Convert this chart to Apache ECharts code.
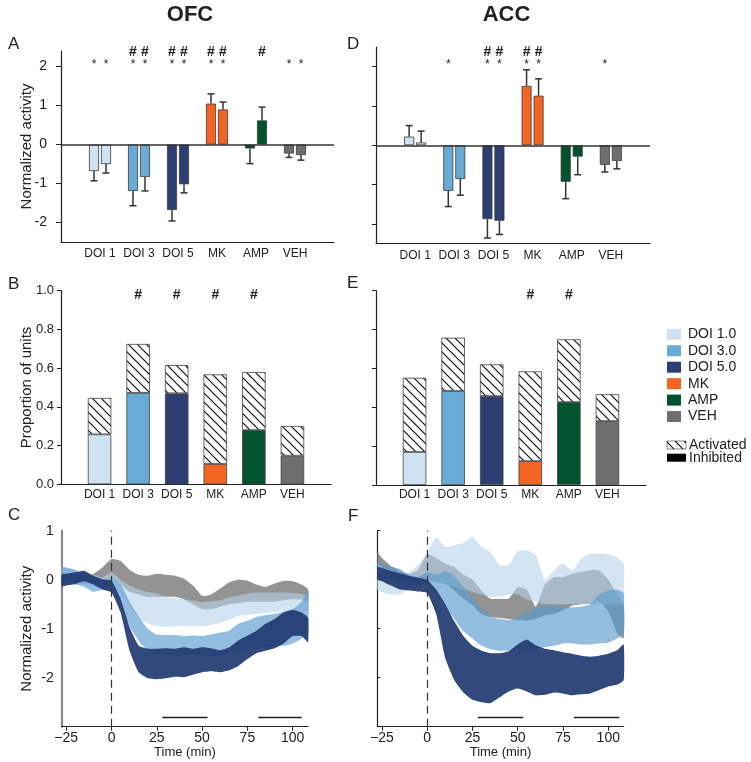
<!DOCTYPE html>
<html><head><meta charset="utf-8">
<script src="https://cdn.jsdelivr.net/npm/echarts@6/dist/echarts.min.js"></script>
<style>html,body{margin:0;padding:0;background:#fff}#c{width:751px;height:762px}</style>
</head><body><div id="c"></div>
<script>
// ---------- data ----------
const groups = ['DOI 1','DOI 3','DOI 5','MK','AMP','VEH'];
const legendNames = ['DOI 1.0','DOI 3.0','DOI 5.0','MK','AMP','VEH'];
const groupColors = ['#cfe2f1','#6aaad6','#2d3f72','#f26522','#00532c','#6e6e6e'];

// A: OFC normalized activity (two bars per group) and error-bar ends
const ofcBar1 = [-0.68,-1.19,-1.68,1.05,-0.10,-0.23];
const ofcBar1Err = [-0.93,-1.57,-1.96,1.30,-0.49,-0.33];
const ofcBar2 = [-0.50,-0.83,-1.02,0.90,0.62,-0.27];
const ofcBar2Err = [-0.73,-1.19,-1.24,1.09,0.96,-0.40];
const ofcStars = [[1,1],[1,1],[1,1],[1,1],[0,0],[1,1]];
const ofcHashes = [[0,0],[1,1],[1,1],[1,1],[0,1],[0,0]];

// D: ACC normalized activity
const accBar1 = [0.22,-1.16,-1.88,1.51,-0.93,-0.50];
const accBar1Err = [0.50,-1.56,-2.36,1.92,-1.36,-0.68];
const accBar2 = [0.07,-0.86,-1.92,1.26,-0.29,-0.40];
const accBar2Err = [0.36,-1.27,-2.27,1.69,-0.75,-0.60];
const accStars = [[0,0],[1,0],[1,1],[1,1],[0,0],[1,0]];
const accHashes = [[0,0],[0,0],[1,1],[1,1],[0,0],[0,0]];

// B / E: proportion of units
const ofcInhibited = [0.258,0.472,0.470,0.105,0.280,0.148];
const ofcActivated = [0.188,0.253,0.146,0.463,0.300,0.153];
const ofcPropHash = [0,1,1,1,1,0];
const accInhibited = [0.170,0.484,0.458,0.123,0.427,0.329];
const accActivated = [0.382,0.274,0.163,0.462,0.323,0.138];
const accPropHash = [0,0,0,1,1,0];

// C / F: time courses (lower / upper band edges)
const times = [-27.5,-25,-20,-15,-10,-5,0,5,10,15,20,25,30,35,40,45,50,55,60,65,70,75,80,85,90,95,100,105,108.5];
const timeTicks = [-25,0,25,50,75,100];
const sigWindowsOfc = [[28,53],[81,105]];
const sigWindowsAcc = [[28,53],[81,106]];

const ofcDoi1Lo = [-0.1,-0.05,-0.05,-0.1,-0.15,-0.15,-0.1,-0.3,-0.55,-0.78,-0.9,-0.95,-0.96,-0.95,-0.94,-0.95,-0.95,-0.93,-0.88,-0.82,-0.74,-0.72,-0.7,-0.68,-0.66,-0.64,-0.62,-0.62,-0.64];
const ofcDoi1Hi = [0.25,0.25,0.2,0.15,0.1,0.05,0.15,0.0,-0.12,-0.2,-0.25,-0.28,-0.36,-0.38,-0.4,-0.43,-0.46,-0.44,-0.42,-0.36,-0.32,-0.28,-0.26,-0.26,-0.26,-0.26,-0.27,-0.29,-0.32];
const ofcDoi3Lo = [-0.1,-0.1,-0.1,-0.15,-0.25,-0.2,-0.15,-0.55,-0.95,-1.25,-1.45,-1.5,-1.52,-1.55,-1.55,-1.52,-1.55,-1.55,-1.55,-1.5,-1.45,-1.42,-1.4,-1.38,-1.35,-1.35,-1.3,-1.2,-1.05];
const ofcDoi3Hi = [0.25,0.25,0.2,0.1,0.05,0.0,0.05,-0.1,-0.45,-0.75,-1.0,-1.12,-1.13,-1.13,-1.15,-1.14,-1.15,-1.12,-1.08,-1.04,-0.9,-0.84,-0.76,-0.72,-0.7,-0.65,-0.6,-0.45,-0.2];
const ofcDoi5Lo = [-0.14,-0.12,-0.09,-0.03,-0.1,-0.2,-0.26,-0.67,-1.45,-1.89,-2.01,-2.03,-2.01,-1.98,-1.99,-1.94,-1.89,-1.87,-1.89,-1.85,-1.76,-1.62,-1.5,-1.45,-1.4,-1.3,-1.15,-1.15,-1.28];
const ofcDoi5Hi = [0.1,0.12,0.15,0.18,0.08,0.01,-0.02,-0.39,-0.97,-1.35,-1.41,-1.41,-1.4,-1.41,-1.38,-1.41,-1.38,-1.4,-1.44,-1.38,-1.24,-1.14,-1.04,-0.9,-0.8,-0.67,-0.62,-0.67,-0.78];
const ofcVehLo = [-0.05,-0.05,-0.05,-0.08,-0.05,0.0,0.05,-0.1,-0.25,-0.3,-0.35,-0.35,-0.35,-0.35,-0.4,-0.5,-0.6,-0.6,-0.55,-0.5,-0.48,-0.45,-0.45,-0.45,-0.45,-0.42,-0.4,-0.4,-0.45];
const ofcVehHi = [0.15,0.12,0.08,0.1,0.12,0.25,0.42,0.38,0.2,0.1,0.08,0.12,0.1,0.08,0.02,-0.12,-0.33,-0.3,-0.18,-0.05,0.0,-0.02,-0.1,-0.15,-0.08,-0.02,-0.03,-0.1,-0.2];

const accDoi1Lo = [-0.2,-0.25,-0.3,-0.3,-0.2,-0.1,0.0,-0.05,-0.1,-0.15,-0.2,-0.25,-0.3,-0.35,-0.35,-0.3,-0.3,-0.4,-0.45,-0.5,-0.5,-0.5,-0.5,-0.5,-0.5,-0.5,-0.5,-0.5,-0.5];
const accDoi1Hi = [0.2,0.18,0.1,0.05,0.15,0.3,0.55,0.87,0.67,0.7,0.75,0.88,0.67,0.56,0.3,0.3,0.58,0.6,0.5,0.0,0.19,0.33,0.19,0.43,0.53,0.53,0.52,0.45,0.33];
const accDoi3Lo = [0.0,0.0,0.0,-0.05,-0.1,-0.12,-0.05,-0.3,-0.55,-0.8,-1.05,-1.2,-1.35,-1.42,-1.45,-1.45,-1.45,-1.42,-1.4,-1.38,-1.35,-1.3,-1.3,-1.32,-1.32,-1.3,-1.28,-1.2,-1.1];
const accDoi3Hi = [0.35,0.33,0.27,0.22,0.1,0.05,0.15,0.1,0.18,0.08,-0.15,-0.35,-0.6,-0.75,-0.8,-0.82,-0.76,-0.66,-0.58,-0.53,-0.53,-0.55,-0.56,-0.55,-0.5,-0.3,-0.22,-0.2,-0.28];
const accDoi5Lo = [0.0,-0.03,-0.12,-0.2,-0.22,-0.24,-0.27,-0.7,-1.6,-2.05,-2.3,-2.45,-2.5,-2.52,-2.4,-2.28,-2.22,-2.28,-2.36,-2.35,-2.3,-2.32,-2.36,-2.34,-2.32,-2.25,-2.18,-2.14,-2.05];
const accDoi5Hi = [0.26,0.24,0.18,0.13,0.08,0.04,0.0,-0.2,-0.5,-0.85,-1.15,-1.35,-1.45,-1.5,-1.5,-1.46,-1.32,-1.22,-1.34,-1.41,-1.44,-1.48,-1.51,-1.55,-1.57,-1.55,-1.51,-1.44,-1.32];
const accVehLo = [0.33,0.25,0.1,0.0,-0.05,-0.02,0.0,-0.05,-0.08,-0.22,-0.38,-0.52,-0.7,-0.76,-0.78,-0.8,-0.82,-0.83,-0.8,-0.73,-0.7,-0.62,-0.53,-0.5,-0.49,-0.44,-0.65,-1.1,-1.2];
const accVehHi = [0.56,0.45,0.28,0.18,0.12,0.2,0.52,0.45,0.33,0.26,0.1,0.0,-0.22,-0.39,-0.39,-0.39,-0.15,-0.2,-0.55,-0.1,0.05,0.05,0.12,0.16,0.19,0.19,0.0,-0.3,-0.49];

// ---------- styling ----------
const FONT = '"Liberation Sans", Arial, Helvetica, sans-serif';
const INK = '#222';
const STAR_Y = 2.13, HASH_Y = 2.38, PROP_HASH_Y = 0.975, SIG_Y = -2.8;
const bandColors = {doi1:'#b5d3ea', doi3:'#5a9bd0', doi5:'#203a70', veh:'#6f6f6f'};
const bandOpacity = {doi1:0.6, doi3:0.65, doi5:0.92, veh:0.75};

function makeHatch(){
  const c = document.createElement('canvas'); c.width = 9; c.height = 9;
  const g = c.getContext('2d');
  g.fillStyle = '#fff'; g.fillRect(0,0,9,9);
  g.strokeStyle = '#111'; g.lineWidth = 1.2; g.beginPath();
  g.moveTo(-1,-1); g.lineTo(10,10);
  g.moveTo(-1,8); g.lineTo(1,10);
  g.moveTo(8,-1); g.lineTo(10,1);
  g.stroke();
  return c;
}
const hatch = {image: makeHatch(), repeat: 'repeat'};

const cats = ['', ...groups, ''];
const grids = [
  {left:61, top:51, width:273, height:191},    // A
  {left:376, top:47, width:274, height:196.5}, // D
  {left:61, top:290.7, width:270, height:193.6}, // B
  {left:376, top:290.7, width:270, height:194.3}, // E
  {left:61.7, top:530.7, width:246.4, height:196}, // C
  {left:377.3, top:530.7, width:246.4, height:196} // F
].map(g => Object.assign({outerBoundsMode:'none', containLabel:false}, g));

function catAxis(gi, margin){
  return {type:'category', gridIndex:gi, data:cats, boundaryGap:false,
    axisLine:{onZero:false, lineStyle:{color:INK, width:1.2}}, axisTick:{show:false},
    axisLabel:{interval:0, fontFamily:FONT, fontSize:12, color:INK, margin:margin},
    splitLine:{show:false}};
}
function timeAxis(gi){
  return {type:'value', gridIndex:gi, min:-27.5, max:108.5,
    axisLine:{onZero:false, lineStyle:{color:INK, width:1.2}},
    axisTick:{show:true, length:4, customValues:timeTicks, lineStyle:{color:INK}},
    axisLabel:{customValues:timeTicks, fontFamily:FONT, fontSize:14, color:INK, margin:4,
      formatter: v => String(v).replace('-', '\u2212')},
    splitLine:{show:false},
    name:'Time (min)', nameLocation:'middle', nameGap:15,
    nameTextStyle:{fontFamily:FONT, fontSize:13, color:INK}};
}
const yName = {fontFamily:FONT, fontSize:15, color:INK};

const xAxes = [catAxis(0,6), catAxis(1,6), catAxis(2,4), catAxis(3,4), timeAxis(4), timeAxis(5)];
const yAxes = [
  {type:'value', gridIndex:0, min:-2.5, max:2.4,
   axisLine:{show:true, onZero:false, lineStyle:{color:INK, width:1.2}},
   axisTick:{show:true, length:5, customValues:[-2,-1,0,1,2], lineStyle:{color:INK}},
   axisLabel:{customValues:[-2,-1,0,1,2], fontFamily:FONT, fontSize:14, color:INK, margin:14},
   splitLine:{show:false}, name:'Normalized activity', nameLocation:'middle', nameGap:27,
   nameMoveOverlap:false, nameTextStyle:yName},
  {type:'value', gridIndex:1, min:-2.5, max:2.5,
   axisLine:{show:true, onZero:false, lineStyle:{color:INK, width:1.2}},
   axisTick:{show:true, length:4, customValues:[-2,-1,0,1,2], lineStyle:{color:INK}},
   axisLabel:{show:false}, splitLine:{show:false}},
  {type:'value', gridIndex:2, min:0, max:1, interval:0.2,
   axisLine:{show:true, onZero:false, lineStyle:{color:INK, width:1.2}},
   axisTick:{show:true, length:4, lineStyle:{color:INK}},
   axisLabel:{fontFamily:FONT, fontSize:13, color:INK, margin:7, formatter: v => v.toFixed(1)},
   splitLine:{show:false}, name:'Proportion of units', nameLocation:'middle', nameGap:27,
   nameMoveOverlap:false, nameTextStyle:yName},
  {type:'value', gridIndex:3, min:0, max:1, interval:0.2,
   axisLine:{show:true, onZero:false, lineStyle:{color:INK, width:1.2}},
   axisTick:{show:true, length:4, lineStyle:{color:INK}},
   axisLabel:{show:false}, splitLine:{show:false}},
  {type:'value', gridIndex:4, min:-3, max:1,
   axisLine:{show:true, onZero:false, lineStyle:{color:'#8a8a8a', width:2.2}},
   axisTick:{show:false},
   axisLabel:{customValues:[-2,-1,0,1], fontFamily:FONT, fontSize:14, color:INK, margin:8},
   splitLine:{show:false}, name:'Normalized activity', nameLocation:'middle', nameGap:27,
   nameMoveOverlap:false, nameTextStyle:yName},
  {type:'value', gridIndex:5, min:-3, max:1,
   axisLine:{show:true, onZero:false, lineStyle:{color:INK, width:1.2}},
   axisTick:{show:true, inside:true, length:3, customValues:[-2,-1,0,1], lineStyle:{color:INK}},
   axisLabel:{show:false}, splitLine:{show:false}}
];

const series = [];

function padded(vals, styler){
  return ['-', ...vals.map((v,i)=>({value:v, itemStyle:styler(i)})), '-'];
}

function activityPanel(gi, b1, e1, b2, e2, stars, hashes){
  const solid = i => ({color:groupColors[i], borderColor:'#3a3a3a', borderWidth:0.8});
  series.push({type:'bar', xAxisIndex:gi, yAxisIndex:gi, barWidth:10, barGap:'20%', silent:true,
    data:padded(b1, solid),
    markLine:{silent:true, symbol:'none', label:{show:false}, animation:false,
      lineStyle:{color:'#333', width:1.5, type:'solid'}, data:[{yAxis:0}]}});
  series.push({type:'bar', xAxisIndex:gi, yAxisIndex:gi, barWidth:10, barGap:'20%', silent:true,
    data:padded(b2, solid)});
  [[b1,e1,-6],[b2,e2,6]].forEach(([b,e,off]) => {
    series.push({type:'custom', xAxisIndex:gi, yAxisIndex:gi, silent:true, z:3,
      data: groups.map((g,i)=>[i+1, b[i], e[i]]),
      renderItem(params, api){
        const x = api.value(0);
        const p0 = api.coord([x, api.value(1)]);
        const p1 = api.coord([x, api.value(2)]);
        const cx = p0[0] + off;
        return {type:'group', children:[
          {type:'line', shape:{x1:cx, y1:p0[1], x2:cx, y2:p1[1]}, style:{stroke:'#333', lineWidth:1.5}},
          {type:'line', shape:{x1:cx-3.5, y1:p1[1], x2:cx+3.5, y2:p1[1]}, style:{stroke:'#333', lineWidth:1.5}}
        ]};
      }});
  });
  series.push({type:'custom', xAxisIndex:gi, yAxisIndex:gi, silent:true, z:4,
    data: groups.map((g,i)=>[i+1, stars[i][0], stars[i][1], hashes[i][0], hashes[i][1]]),
    renderItem(params, api){
      const x = api.value(0);
      const ch = [];
      [-6, 6].forEach((off, k) => {
        if (api.value(1+k)) {
          const p = api.coord([x, STAR_Y]);
          ch.push({type:'text', x:p[0]+off, y:p[1]+3, style:{text:'*', fontFamily:FONT, fontSize:12, fill:INK, align:'center', verticalAlign:'middle'}});
        }
        if (api.value(3+k)) {
          const p = api.coord([x, HASH_Y]);
          ch.push({type:'text', x:p[0]+off, y:p[1], style:{text:'#', fontFamily:FONT, fontSize:14, fontWeight:'bold', fill:INK, align:'center', verticalAlign:'middle'}});
        }
      });
      return {type:'group', children:ch};
    }});
}

function proportionPanel(gi, inh, act, hashes){
  series.push({type:'bar', xAxisIndex:gi, yAxisIndex:gi, stack:'p'+gi, barWidth:23.5, silent:true, name:'Inhibited',
    data:padded(inh, i => ({color:groupColors[i], borderColor:'#444', borderWidth:0.8}))});
  series.push({type:'bar', xAxisIndex:gi, yAxisIndex:gi, stack:'p'+gi, barWidth:23.5, silent:true, name:'Activated',
    data:padded(act, i => ({color:hatch, borderColor:'#444', borderWidth:0.8}))});
  series.push({type:'custom', xAxisIndex:gi, yAxisIndex:gi, silent:true, z:4,
    data: groups.map((g,i)=>[i+1, hashes[i]]),
    renderItem(params, api){
      if (!api.value(1)) return {type:'group', children:[]};
      const p = api.coord([api.value(0), PROP_HASH_Y]);
      return {type:'text', x:p[0], y:p[1], style:{text:'#', fontFamily:FONT, fontSize:14, fontWeight:'bold', fill:INK, align:'center', verticalAlign:'middle'}};
    }});
}

function band(gi, lo, hi, key, extra){
  const s = {type:'custom', xAxisIndex:gi, yAxisIndex:gi, silent:true, clip:true,
    data: times.map((t,i)=>[t, lo[i], hi[i]]),
    encode:{x:0, y:[1,2]},
    renderItem(params, api){
      if (params.dataIndex !== 0) return {type:'group', children:[]};
      const pts = [];
      for (let i=0;i<times.length;i++) pts.push(api.coord([times[i], hi[i]]));
      for (let i=times.length-1;i>=0;i--) pts.push(api.coord([times[i], lo[i]]));
      return {type:'polygon', shape:{points:pts, smooth:0.15},
        style:{fill:bandColors[key], opacity:bandOpacity[key]}};
    }};
  if (extra) Object.assign(s, extra);
  series.push(s);
}

function timePanel(gi, d, windows){
  const ml = {silent:true, symbol:'none', label:{show:false}, animation:false,
    data:[
      {xAxis:0, lineStyle:{color:'#333', width:1.2, type:[8,5]}},
      ...windows.map(w => [{coord:[w[0], SIG_Y], lineStyle:{color:INK, width:1.3, type:'solid'}}, {coord:[w[1], SIG_Y]}])
    ]};
  band(gi, d.vehLo, d.vehHi, 'veh', {markLine:ml});
  band(gi, d.doi1Lo, d.doi1Hi, 'doi1');
  band(gi, d.doi3Lo, d.doi3Hi, 'doi3');
  band(gi, d.doi5Lo, d.doi5Hi, 'doi5');
}

activityPanel(0, ofcBar1, ofcBar1Err, ofcBar2, ofcBar2Err, ofcStars, ofcHashes);
activityPanel(1, accBar1, accBar1Err, accBar2, accBar2Err, accStars, accHashes);
proportionPanel(2, ofcInhibited, ofcActivated, ofcPropHash);
proportionPanel(3, accInhibited, accActivated, accPropHash);
timePanel(4, {vehLo:ofcVehLo, vehHi:ofcVehHi, doi1Lo:ofcDoi1Lo, doi1Hi:ofcDoi1Hi, doi3Lo:ofcDoi3Lo, doi3Hi:ofcDoi3Hi, doi5Lo:ofcDoi5Lo, doi5Hi:ofcDoi5Hi}, sigWindowsOfc);
timePanel(5, {vehLo:accVehLo, vehHi:accVehHi, doi1Lo:accDoi1Lo, doi1Hi:accDoi1Hi, doi3Lo:accDoi3Lo, doi3Hi:accDoi3Hi, doi5Lo:accDoi5Lo, doi5Hi:accDoi5Hi}, sigWindowsAcc);

// ---------- text & legend ----------
const graphics = [];
function txt(x, y, text, size, opts){
  graphics.push({type:'text', x, y, silent:true,
    style:Object.assign({text, fontFamily:FONT, fontSize:size, fill:INK, align:'left', verticalAlign:'middle'}, opts||{})});
}
txt(190, 15, 'OFC', 22, {fontWeight:'bold', align:'center'});
txt(506.5, 15, 'ACC', 22, {fontWeight:'bold', align:'center'});
[['A',8,44],['B',8,284],['C',8,515],['D',347,44],['E',347,283],['F',348,516]].forEach(([l,x,y]) => txt(x, y, l, 17));

legendNames.forEach((n,i) => {
  const cy = 334.3 + 16.45*i;
  graphics.push({type:'rect', silent:true, shape:{x:667, y:cy-5.5, width:14, height:11}, style:{fill:groupColors[i]}});
  txt(688, cy, n, 14);
});
graphics.push({type:'rect', silent:true, shape:{x:667, y:441, width:19, height:8}, style:{fill:hatch, stroke:'#333', lineWidth:0.6}});
txt(689, 445, 'Activated', 14);
graphics.push({type:'rect', silent:true, shape:{x:667, y:453.7, width:19, height:8}, style:{fill:'#000'}});
txt(689, 457.7, 'Inhibited', 14);

const chart = echarts.init(document.getElementById('c'), null, {renderer:'canvas'});
chart.setOption({
  animation:false,
  backgroundColor:'#fff',
  textStyle:{fontFamily:FONT},
  grid:grids, xAxis:xAxes, yAxis:yAxes, series, graphic:graphics
});
</script>
</body></html>
